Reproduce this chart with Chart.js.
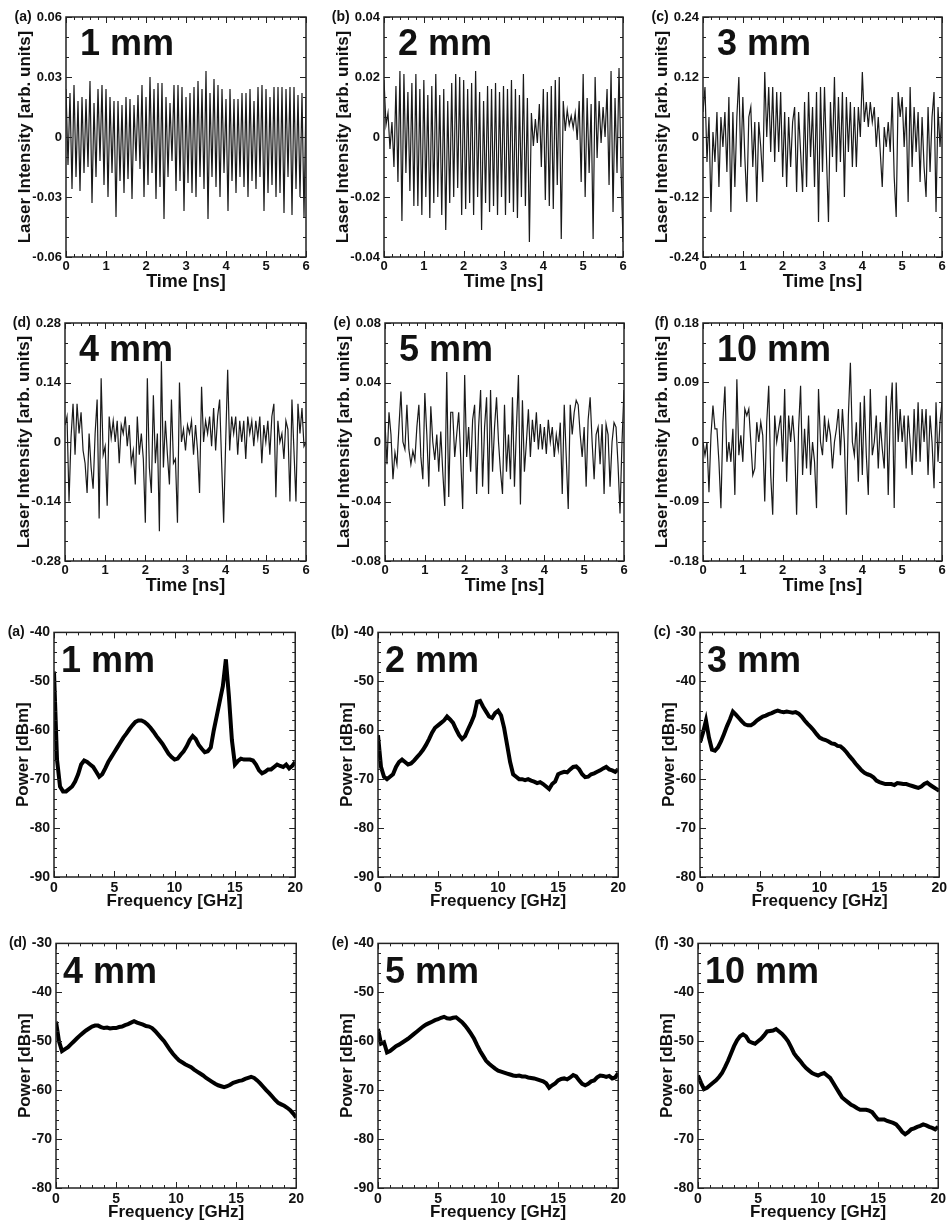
<!DOCTYPE html>
<html>
<head>
<meta charset="utf-8">
<script src="https://cdn.jsdelivr.net/npm/chart.js@4.4.0/dist/chart.umd.min.js"></script>
<style>
  html, body { margin: 0; padding: 0; background: #fff; }
  #page { position: relative; width: 951px; height: 1223px; overflow: hidden; }
  #page canvas { position: absolute; }
</style>
</head>
<body>
<div id="page"></div>
<script>
// ---- data ----
const lengths = ['1 mm', '2 mm', '3 mm', '4 mm', '5 mm', '10 mm'];
const letters = ['(a)', '(b)', '(c)', '(d)', '(e)', '(f)'];

// laser intensity traces, one value every 0.05 ns from 0 to 6 ns
const timeStep = 0.05;
const trace1mm = [
  0.024,-0.014,0.022,-0.026,0.026,-0.02,0.018,-0.027,0.02,-0.018,
  0.019,-0.015,0.028,-0.033,0.017,-0.02,0.024,-0.012,0.026,-0.024,
  0.024,-0.03,0.02,-0.018,0.018,-0.04,0.018,-0.022,0.016,-0.028,
  0.02,-0.021,0.019,-0.031,0.016,-0.012,0.021,-0.016,0.026,-0.03,
  0.02,-0.024,0.03,-0.018,0.024,-0.031,0.027,-0.025,0.027,-0.041,
  0.02,-0.02,0.017,-0.012,0.026,-0.027,0.026,-0.022,0.025,-0.037,
  0.02,-0.023,0.022,-0.028,0.025,-0.03,0.028,-0.02,0.024,-0.026,
  0.033,-0.041,0.022,-0.02,0.029,-0.025,0.026,-0.03,0.024,-0.018,
  0.019,-0.037,0.024,-0.022,0.019,-0.028,0.019,-0.02,0.022,-0.025,
  0.022,-0.03,0.024,-0.022,0.018,-0.026,0.025,-0.02,0.026,-0.037,
  0.024,-0.028,0.02,-0.024,0.025,-0.03,0.025,-0.028,0.025,-0.038,
  0.024,-0.02,0.025,-0.039,0.025,-0.026,0.021,-0.03,0.022,-0.04,
  0.02
];
const trace2mm = [
  0.019,0.004,0.008,-0.004,0.005,-0.01,0.017,-0.015,0.022,-0.028,
  0.021,-0.012,0.015,-0.018,0.018,-0.023,0.021,-0.023,0.016,-0.026,
  0.019,-0.02,0.014,-0.027,0.017,-0.022,0.021,-0.02,0.014,-0.026,
  0.016,-0.031,0.012,-0.022,0.018,-0.02,0.021,-0.017,0.02,-0.026,
  0.019,-0.024,0.016,-0.022,0.018,-0.026,0.022,-0.02,0.015,-0.031,
  0.012,-0.022,0.017,-0.025,0.016,-0.023,0.018,-0.026,0.015,-0.02,
  0.017,-0.026,0.016,-0.022,0.019,-0.025,0.016,-0.027,0.014,-0.02,
  0.021,-0.023,0.013,-0.035,0.008,-0.003,0.006,-0.002,0.011,-0.01,
  0.016,-0.021,0.015,-0.023,0.017,-0.024,0.019,-0.016,0.02,-0.034,
  0.012,0.002,0.009,0.004,0.007,0.003,0.008,-0.001,0.012,-0.015,
  0.021,-0.02,0.013,-0.012,0.011,-0.034,0.02,-0.007,0.012,-0.002,
  0.01,0.0,0.016,-0.016,0.022,-0.025,0.013,-0.012,0.023,-0.01,
  -0.035
];
const trace3mm = [
  0.05,0.1,-0.05,0.04,-0.15,0.01,-0.05,0.05,-0.1,0.04,
  -0.02,0.05,-0.07,0.08,-0.15,0.05,-0.1,0.04,0.12,-0.06,
  0.08,-0.04,-0.13,0.04,0.06,-0.06,0.03,-0.13,0.03,-0.02,
  -0.09,0.13,0.0,0.1,-0.03,0.1,-0.05,0.09,-0.03,0.09,
  -0.08,0.05,-0.1,0.04,-0.06,0.03,0.06,-0.11,0.05,-0.03,
  -0.11,0.07,-0.1,0.09,-0.04,0.06,-0.1,0.09,-0.17,0.1,
  -0.07,0.1,-0.04,-0.17,0.07,-0.04,0.12,-0.07,0.08,-0.05,
  0.09,-0.12,0.08,-0.03,0.07,-0.06,0.06,-0.06,0.06,0.0,
  0.13,0.03,0.07,0.02,0.07,0.03,0.06,-0.02,0.04,-0.03,
  -0.1,0.02,-0.02,0.03,-0.03,0.08,-0.08,-0.16,0.09,0.04,
  0.08,-0.02,0.06,-0.13,0.1,-0.06,0.06,-0.03,0.05,-0.09,
  0.04,-0.06,-0.12,0.06,-0.07,0.04,0.09,-0.15,0.06,-0.02,
  0.05
];
const trace4mm = [
  0.04,0.06,-0.14,0.01,0.09,-0.03,0.09,0.02,0.07,-0.02,
  -0.05,-0.12,0.02,-0.06,-0.11,0.02,0.1,-0.18,0.15,-0.03,
  -0.01,-0.15,0.06,0.01,0.05,0.0,0.05,-0.05,0.04,0.02,
  0.06,-0.01,0.04,-0.05,-0.02,-0.1,0.06,-0.03,0.02,-0.04,
  -0.19,0.15,-0.06,-0.12,0.11,-0.05,0.02,-0.21,0.19,-0.06,
  0.05,-0.03,-0.1,0.1,-0.05,-0.04,-0.19,0.14,0.0,0.03,
  -0.02,0.04,0.02,0.05,-0.03,0.04,-0.02,-0.12,0.13,0.0,
  0.05,0.02,0.06,-0.01,0.08,-0.02,0.06,0.1,-0.05,-0.19,
  0.0,0.17,-0.02,0.06,0.02,0.06,-0.03,0.05,0.0,0.05,
  -0.04,0.06,0.02,0.05,-0.01,0.05,0.01,0.06,-0.05,0.04,
  0.0,0.05,-0.03,0.06,0.09,-0.13,0.05,0.0,0.02,-0.04,
  0.05,0.03,-0.14,0.1,-0.02,-0.14,0.09,0.02,0.08,-0.01,
  0.0
];
const trace5mm = [
  0.013,-0.015,0.02,0.005,-0.025,-0.007,-0.015,0.01,0.034,0.0,
  -0.005,0.025,-0.005,-0.015,-0.006,-0.012,0.01,0.025,-0.01,-0.025,
  0.033,0.005,-0.03,0.024,0.0,-0.012,0.005,-0.02,0.007,-0.02,
  -0.043,0.047,-0.037,0.02,0.02,-0.01,0.005,0.02,-0.01,-0.045,
  0.045,-0.01,0.01,-0.02,0.015,0.025,-0.035,0.01,0.035,-0.03,
  0.01,0.03,-0.035,0.035,-0.02,0.01,0.03,0.0,-0.02,-0.035,
  0.025,-0.02,0.005,-0.025,0.03,-0.03,0.01,0.045,-0.042,0.028,
  -0.02,0.0,0.022,-0.01,0.015,0.0,0.02,-0.005,0.012,-0.005,
  0.01,-0.008,0.015,0.0,0.01,-0.01,0.005,-0.005,0.013,-0.035,
  0.025,-0.01,-0.045,0.025,0.005,0.02,0.028,0.025,0.005,-0.01,
  0.01,-0.03,0.015,0.03,0.0,-0.025,0.005,0.01,-0.015,0.012,
  -0.035,0.012,0.005,-0.03,0.0,0.013,0.01,-0.015,-0.048,0.0,
  0.035
];
const trace10mm = [
  0.0,-0.02,0.0,-0.076,0.01,0.055,0.02,0.02,-0.03,-0.1,
  0.03,0.084,-0.03,0.0,-0.03,0.02,-0.08,0.095,-0.02,0.01,
  -0.03,0.05,0.04,0.05,0.0,-0.05,-0.04,0.03,0.0,0.03,
  0.01,-0.09,0.03,0.085,-0.05,-0.11,0.04,0.0,0.02,0.04,
  -0.03,0.08,-0.06,0.04,0.0,0.04,0.0,-0.11,0.02,0.085,
  -0.05,0.02,-0.04,0.04,-0.05,0.0,-0.03,-0.1,0.08,0.0,
  -0.02,0.04,0.0,0.03,0.01,-0.04,0.0,0.02,0.05,-0.02,
  0.05,0.0,-0.11,0.04,0.12,0.0,-0.02,0.03,-0.06,0.06,
  -0.05,0.07,-0.02,-0.08,0.08,-0.02,0.0,0.04,-0.04,0.03,
  -0.01,-0.04,0.07,-0.08,0.04,0.09,-0.1,0.09,0.0,0.05,
  0.0,0.04,-0.04,0.04,0.0,-0.05,0.05,-0.03,0.06,-0.03,
  0.05,0.0,0.05,-0.05,0.04,0.0,-0.07,0.06,-0.03,0.03,
  0.06
];
const traces = [trace1mm, trace2mm, trace3mm, trace4mm, trace5mm, trace10mm];
// symmetric y limits of each trace panel, major tick every half of it
const traceLimits = [0.06, 0.04, 0.24, 0.28, 0.08, 0.18];

// RF power spectra, one value every 0.25 GHz from 0 to 20 GHz
const freqStep = 0.25;
const spec1mm = [
  -48,-66,-71.5,-72.5,-72.5,-72,-71.5,-70.5,-69,-67,
  -66.2,-66.5,-67,-67.5,-68.5,-69.5,-69,-67.8,-66.5,-65.5,
  -64.5,-63.5,-62.5,-61.5,-60.7,-59.8,-59,-58.3,-58,-58,
  -58.3,-58.8,-59.5,-60.3,-61.2,-62,-62.8,-63.8,-64.8,-65.5,
  -66,-65.8,-65,-64.3,-63.3,-62,-61.2,-61.8,-63,-63.8,
  -64.5,-64.3,-63.5,-60,-57,-54,-51,-45.5,-53,-62,
  -67,-66.3,-65.8,-66,-66,-66,-66.2,-67,-68.2,-68.8,
  -68.5,-68,-68,-67.5,-67,-67.3,-67.5,-67,-67.8,-67.3,
  -66.5
];
const spec2mm = [
  -61,-67.5,-69.5,-70,-69.5,-69,-67.5,-66.5,-66,-66.5,
  -67,-66.8,-66.2,-65.5,-64.8,-64,-63,-61.8,-60.5,-59.5,
  -59,-58.5,-58,-57.2,-57.8,-58.5,-59.8,-61,-61.8,-61.2,
  -59.8,-58.5,-57,-54.2,-54,-55.2,-56.2,-57.2,-57.5,-56.5,
  -56,-57,-59.5,-63,-66.5,-69,-69.5,-70,-70,-70.2,
  -70,-70.3,-70.5,-70.8,-70.6,-71,-71.5,-72,-71,-70.5,
  -69,-68.7,-68.5,-68.6,-68,-67.5,-67.4,-68,-69,-69.6,
  -69.5,-69,-68.8,-68.5,-68.2,-67.8,-67.5,-68,-68.2,-68.5,
  -68
];
const spec3mm = [
  -52.5,-50.5,-48,-51.5,-54,-54.2,-53.5,-52.3,-50.8,-49.2,
  -47.8,-46.2,-46.8,-47.5,-48.2,-48.8,-49,-49,-48.6,-48,
  -47.6,-47.2,-47,-46.7,-46.5,-46.2,-46,-46.2,-46.3,-46.2,
  -46.3,-46.4,-46.3,-46.6,-47.2,-48,-48.7,-49.3,-50,-50.8,
  -51.5,-51.8,-52,-52.3,-52.7,-52.8,-53.2,-53.3,-53.8,-54.5,
  -55.3,-56,-56.8,-57.5,-58.2,-58.7,-59,-59.2,-59.6,-60.3,
  -60.6,-60.8,-61,-61,-61,-61.2,-60.8,-60.9,-61,-61,
  -61.2,-61.4,-61.6,-61.8,-61.5,-61,-60.7,-61.2,-61.6,-62,
  -62.4
];
const spec4mm = [
  -46,-50,-52,-51.6,-51.2,-50.6,-50,-49.4,-48.8,-48.3,
  -47.8,-47.4,-47,-46.8,-46.8,-47.1,-47.3,-47.2,-47.4,-47.3,
  -47.3,-47.1,-47,-46.7,-46.5,-46.2,-45.9,-46.2,-46.4,-46.6,
  -46.9,-47,-47.3,-47.9,-48.6,-49.3,-50,-50.9,-51.8,-52.6,
  -53.3,-53.9,-54.3,-54.7,-55,-55.3,-55.8,-56.2,-56.6,-57,
  -57.5,-57.9,-58.3,-58.7,-59,-59.2,-59.4,-59.2,-58.9,-58.5,
  -58.3,-58.1,-58,-57.7,-57.5,-57.3,-57.5,-58,-58.6,-59.3,
  -60,-60.6,-61.3,-62,-62.6,-62.9,-63.2,-63.6,-64.1,-64.8,
  -65.6
];
const spec5mm = [
  -57.5,-60.5,-60.2,-62.3,-62,-61.5,-61,-60.7,-60.3,-59.9,
  -59.5,-59,-58.5,-58,-57.5,-57,-56.6,-56.3,-56,-55.7,
  -55.5,-55.2,-55,-55.3,-55.4,-55.2,-55.1,-55.6,-56.1,-56.8,
  -57.6,-58.5,-59.5,-60.8,-62,-63,-64,-64.6,-65.1,-65.6,
  -66,-66.2,-66.4,-66.6,-66.8,-67,-67.1,-67,-67.2,-67.2,
  -67.4,-67.5,-67.6,-67.8,-68,-68.2,-68.6,-69.5,-69,-68.6,
  -68,-67.7,-67.6,-67.8,-67.4,-66.9,-67.2,-68,-68.7,-69,
  -68.7,-68.2,-68,-67.4,-67,-67.1,-67.3,-67.1,-67.6,-67.4,
  -66.5
];
const spec10mm = [
  -57,-58.5,-59.8,-59.5,-59,-58.5,-58,-57.3,-56.5,-55.3,
  -54,-52.5,-51,-49.8,-49,-48.6,-49,-50,-50.3,-50.5,
  -50,-49.5,-48.8,-48,-47.9,-47.8,-47.5,-48,-48.5,-49.2,
  -50,-51.2,-52.5,-53.3,-54,-54.8,-55.5,-56,-56.5,-56.8,
  -57,-56.7,-56.5,-57,-57.5,-58.5,-59.5,-60.5,-61.5,-62,
  -62.5,-63,-63.3,-63.7,-64,-64,-64,-64.2,-64.5,-65.3,
  -66,-66,-66,-66.3,-66.5,-66.7,-67,-67.7,-68.5,-69,
  -68.6,-68,-67.8,-67.5,-67.3,-67,-67.2,-67.5,-67.7,-68,
  -67.5
];
const spectra = [spec1mm, spec2mm, spec3mm, spec4mm, spec5mm, spec10mm];
// lower y limit of each spectrum panel (range is 50 dB)
const powerMin = [-90, -90, -80, -80, -90, -80];

// ---- layout: plot boxes [left, top, right, bottom] in page pixels ----
const traceBoxes = [
  [66, 17, 306, 257], [384, 17, 623, 257], [703, 17, 942, 257],
  [65, 323, 306, 561], [385, 323, 624, 561], [703, 323, 942, 561]
];
const spectrumBoxes = [
  [54, 632, 300, 877], [378, 632, 623, 877], [700, 632, 944, 877],
  [56, 943, 301, 1188], [378, 943, 623, 1188], [698, 943, 943, 1188]
];

const FONT = '"Liberation Sans", Arial, sans-serif';
Chart.defaults.font.family = FONT;
Chart.defaults.font.weight = 'bold';
Chart.defaults.color = '#111';

function fmt(v) {
  return String(Math.round(v * 1000) / 1000);
}

// closed frame with inward major and minor ticks on all four sides,
// plus the panel letter and the cavity length
const framePlugin = {
  id: 'frame',
  afterDraw(chart, args, o) {
    const {ctx, chartArea: a, scales: {x, y}} = chart;
    ctx.save();
    ctx.strokeStyle = '#222';
    ctx.lineWidth = 1;
    const line = (x1, y1, x2, y2) => {
      ctx.beginPath(); ctx.moveTo(x1, y1); ctx.lineTo(x2, y2); ctx.stroke();
    };
    const xMinorStep = o.xStep / o.xSub;
    for (let k = 0; x.min + k * xMinorStep <= x.max + 1e-9; k++) {
      const px = Math.round(x.getPixelForValue(x.min + k * xMinorStep)) + 0.5;
      const len = k % o.xSub === 0 ? 6 : 3;
      line(px, a.bottom, px, a.bottom - len);
      line(px, a.top, px, a.top + len);
    }
    const yMinorStep = o.yStep / o.ySub;
    for (let k = 0; y.min + k * yMinorStep <= y.max + 1e-9; k++) {
      const py = Math.round(y.getPixelForValue(y.min + k * yMinorStep)) + 0.5;
      const len = k % o.ySub === 0 ? 6 : 3;
      line(a.left, py, a.left + len, py);
      line(a.right, py, a.right - len, py);
    }
    ctx.lineWidth = 1.5;
    ctx.strokeRect(a.left, a.top, a.right - a.left, a.bottom - a.top);

    ctx.fillStyle = '#111';
    ctx.font = 'bold ' + o.tickSize + 'px ' + FONT;
    const topW = ctx.measureText(fmt(y.max)).width;
    ctx.font = 'bold 14px ' + FONT;
    ctx.textAlign = 'right';
    ctx.textBaseline = 'middle';
    ctx.fillText(o.letter, a.left - 4 - topW - 5, a.top);

    ctx.font = 'bold 36px ' + FONT;
    ctx.textAlign = 'left';
    ctx.textBaseline = 'alphabetic';
    ctx.fillText(o.name, a.left + o.nameDx, a.top + o.nameDy);
    ctx.restore();
  }
};

function makePanel(box, opt) {
  const [l, t, r, b] = box;
  const padTop = 12, padRight = 6;
  const canvas = document.createElement('canvas');
  canvas.width = opt.yW + (r - l) + padRight;
  canvas.height = padTop + (b - t) + opt.xH;
  canvas.style.left = (l - opt.yW) + 'px';
  canvas.style.top = (t - padTop) + 'px';
  document.getElementById('page').appendChild(canvas);

  const points = opt.values.map((v, i) => ({x: i * opt.step, y: v}));

  new Chart(canvas.getContext('2d'), {
    type: 'line',
    data: {
      datasets: [{
        data: points,
        borderColor: opt.lineColor,
        borderWidth: opt.lineWidth,
        pointRadius: 0,
        tension: 0,
        fill: false
      }]
    },
    options: {
      responsive: false,
      animation: false,
      devicePixelRatio: 1,
      layout: {padding: {top: padTop, right: padRight, left: 0, bottom: 0}},
      plugins: {
        legend: {display: false},
        tooltip: {enabled: false},
        frame: opt.frame
      },
      scales: {
        x: {
          type: 'linear',
          min: opt.xMin, max: opt.xMax,
          grid: {display: false, drawTicks: false},
          border: {display: false},
          ticks: {stepSize: opt.frame.xStep, autoSkip: false, maxRotation: 0,
                  padding: opt.xTickPad, font: {size: opt.frame.tickSize, weight: 'bold'},
                  callback: v => fmt(v)},
          title: {display: true, text: opt.xTitle, font: {size: opt.xTitleSize, weight: 'bold', lineHeight: 1},
                  padding: {top: 0, bottom: opt.xTitlePad}},
          afterFit: s => { s.height = opt.xH; }
        },
        y: {
          min: opt.yMin, max: opt.yMax,
          grid: {display: false, drawTicks: false},
          border: {display: false},
          ticks: {stepSize: opt.frame.yStep, autoSkip: false, padding: 4,
                  font: {size: opt.frame.tickSize, weight: 'bold'},
                  callback: v => fmt(v)},
          title: {display: true, text: opt.yTitle, font: {size: 17, weight: 'bold', lineHeight: 1},
                  padding: {top: opt.yTitlePad, bottom: 0}},
          afterFit: s => { s.width = opt.yW; }
        }
      }
    },
    plugins: [framePlugin]
  });
}

document.addEventListener('DOMContentLoaded', function() {
  traces.forEach((values, i) => {
    const lim = traceLimits[i];
    makePanel(traceBoxes[i], {
      values: values, step: timeStep,
      xMin: 0, xMax: 6, yMin: -lim, yMax: lim,
      yW: 66, xH: 36, xTickPad: 2, xTitlePad: 2, yTitlePad: 16.5,
      xTitle: 'Time [ns]', xTitleSize: 18,
      yTitle: 'Laser Intensity [arb. units]',
      lineColor: '#1a1a1a', lineWidth: 1.2,
      frame: {letter: letters[i], name: lengths[i], xStep: 1, xSub: 5,
              yStep: lim / 2, ySub: 3, tickSize: 13, nameDx: 14, nameDy: 38}
    });
  });
  spectra.forEach((values, i) => {
    makePanel(spectrumBoxes[i], {
      values: values, step: freqStep,
      xMin: 0, xMax: 20, yMin: powerMin[i], yMax: powerMin[i] + 50,
      yW: 50, xH: 36, xTickPad: 3, xTitlePad: 3, yTitlePad: 10.5,
      xTitle: 'Frequency [GHz]', xTitleSize: 17,
      yTitle: 'Power [dBm]',
      lineColor: '#000', lineWidth: 4,
      frame: {letter: letters[i], name: lengths[i], xStep: 5, xSub: 5,
              yStep: 10, ySub: 5, tickSize: 14, nameDx: 7, nameDy: 40}
    });
  });
});
</script>
</body>
</html>
